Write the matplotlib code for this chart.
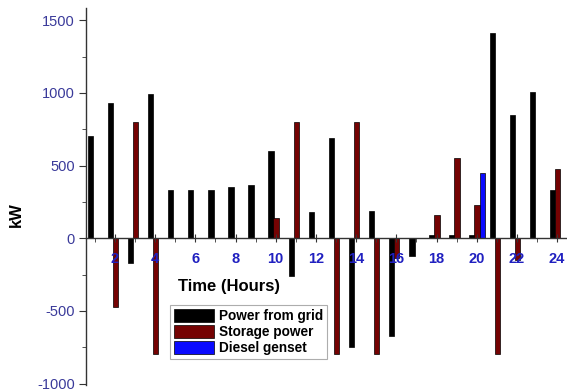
import matplotlib
matplotlib.use("Agg")
import matplotlib.pyplot as plt
from matplotlib.ticker import MultipleLocator
import numpy as np

hours = list(range(1, 25))
grid_power = [705, 930, -170, 990, 330, 330, 330, 350, 365, 600, -260, 180,
              690, -745, 190, -670, -120, 20, 20, 20, 1410, 850, 1010, 330]
storage_power = [0, -470, 800, -800, 0, 0, 0, 0, 0, 140, 800, 0,
                 -800, 800, -800, -135, 0, 160, 555, 230, -800, -150, 0, 475]
diesel_power = [0, 0, 0, 0, 0, 0, 0, 0, 0, 0, 0, 0,
                0, 0, 0, 0, 0, 0, 0, 450, 0, 0, 0, 0]
x_ticks = [2, 4, 6, 8, 10, 12, 14, 16, 18, 20, 22, 24]
y_ticks = [-1000, -500, 0, 500, 1000, 1500]

plt.rcParams['font.family'] = ['Liberation Sans', 'DejaVu Sans']

fig = plt.figure(figsize=(5.67, 3.92), dpi=100)
ax = fig.add_axes([86/567, 7/392, 481/567, 377/392])
ax.set_axisbelow(False)

h = np.array(hours, dtype=float)
w = 0.27
ax.bar(h - 0.23, grid_power, width=w, color='black', edgecolor='black', linewidth=0.5,
       label='Power from grid', zorder=2)
ax.bar(h + 0.02, storage_power, width=w, color='#750303', edgecolor='black', linewidth=0.5,
       label='Storage power', zorder=2)
diesel_mask = np.array(diesel_power) != 0
ax.bar(h[diesel_mask] + 0.28, np.array(diesel_power)[diesel_mask], width=w, color='#0a0aff',
       edgecolor='black', linewidth=0.5, label='Diesel genset', zorder=2)

ax.set_xlim(0.56, 24.49)
ax.set_ylim(-1010, 1585)

for s in ['top', 'right']:
    ax.spines[s].set_visible(False)
ax.spines['bottom'].set_position(('data', 0))
ax.spines['left'].set_color('#333333')
ax.spines['bottom'].set_color('#333333')
ax.spines['left'].set_linewidth(1.0)
ax.spines['bottom'].set_linewidth(1.0)

ax.set_xticks(x_ticks)
ax.set_xticklabels([str(t) for t in x_ticks], fontsize=10.5, fontweight='bold', color='#2020c0')
ax.xaxis.set_minor_locator(MultipleLocator(1))
ax.tick_params(axis='x', which='major', direction='inout', length=6, pad=7, color='#333333')
ax.tick_params(axis='x', which='minor', direction='out', length=3, color='#333333')

ax.set_yticks(y_ticks)
ax.set_yticklabels([str(t) for t in y_ticks], fontsize=10.5, color='#3a3a9a')
ax.yaxis.set_minor_locator(MultipleLocator(250))
ax.tick_params(axis='y', which='major', direction='out', length=5, pad=3, color='#333333')
ax.tick_params(axis='y', which='minor', direction='out', length=3, color='#333333')

fig.text(229/567, 1 - 287/392, 'Time (Hours)', fontsize=12, fontweight='bold',
         ha='center', va='center')
fig.text(16/567, 1 - 215/392, 'kW', fontsize=12, fontweight='bold', rotation=90,
         ha='center', va='center')

leg = ax.legend(loc='upper left', bbox_to_anchor=(170/567, 1 - 305/392),
                bbox_transform=fig.transFigure, frameon=True, fancybox=False,
                prop={'size': 9.8, 'weight': 'bold'}, handlelength=2.9, handleheight=1.1,
                handletextpad=0.4, labelspacing=0.12, borderpad=0.3, borderaxespad=0)
leg.get_frame().set_edgecolor('#999999')
leg.get_frame().set_linewidth(0.8)
leg.set_zorder(5)

fig.savefig('out.png', dpi=100)
